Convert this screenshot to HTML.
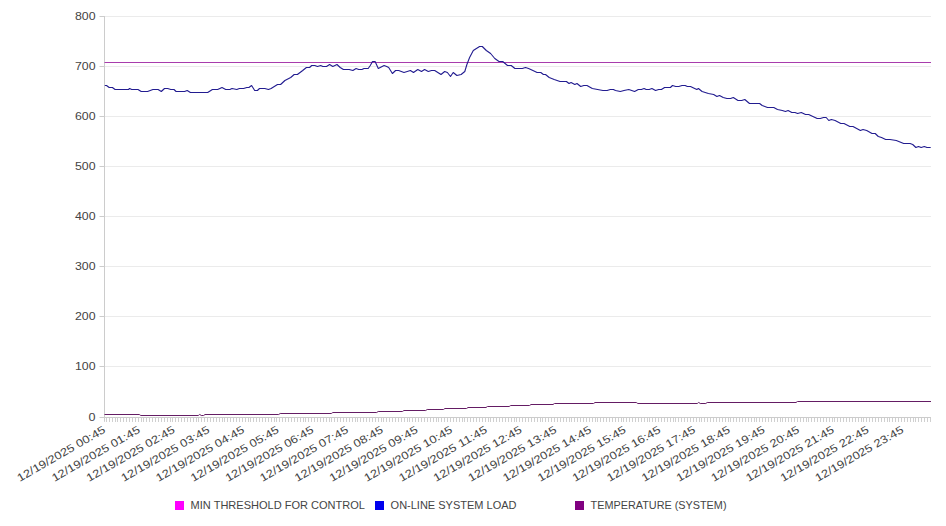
<!DOCTYPE html>
<html><head><meta charset="utf-8"><style>
html,body{margin:0;padding:0;background:#fff;width:946px;height:526px;overflow:hidden}
svg{display:block}
text{font-family:"Liberation Sans", sans-serif;fill:#444}
.yl{font-size:11px}
.xl{font-size:11px}
.lg{font-size:11px}
</style></head><body>
<svg width="946" height="526" viewBox="0 0 946 526">
<line x1="104.5" y1="366.50" x2="931.0" y2="366.50" stroke="#ebebeb" stroke-width="1"/>
<line x1="104.5" y1="316.50" x2="931.0" y2="316.50" stroke="#ebebeb" stroke-width="1"/>
<line x1="104.5" y1="266.50" x2="931.0" y2="266.50" stroke="#ebebeb" stroke-width="1"/>
<line x1="104.5" y1="216.50" x2="931.0" y2="216.50" stroke="#ebebeb" stroke-width="1"/>
<line x1="104.5" y1="166.50" x2="931.0" y2="166.50" stroke="#ebebeb" stroke-width="1"/>
<line x1="104.5" y1="116.50" x2="931.0" y2="116.50" stroke="#ebebeb" stroke-width="1"/>
<line x1="104.5" y1="66.50" x2="931.0" y2="66.50" stroke="#ebebeb" stroke-width="1"/>
<line x1="104.5" y1="16.50" x2="931.0" y2="16.50" stroke="#ebebeb" stroke-width="1"/>
<line x1="99.5" y1="417.50" x2="104.5" y2="417.50" stroke="#cccccc" stroke-width="1"/>
<text x="95.6" y="421.40" text-anchor="end" class="yl" textLength="7.0" lengthAdjust="spacingAndGlyphs">0</text>
<line x1="99.5" y1="366.50" x2="104.5" y2="366.50" stroke="#cccccc" stroke-width="1"/>
<text x="95.6" y="370.40" text-anchor="end" class="yl" textLength="20.6" lengthAdjust="spacingAndGlyphs">100</text>
<line x1="99.5" y1="316.50" x2="104.5" y2="316.50" stroke="#cccccc" stroke-width="1"/>
<text x="95.6" y="320.40" text-anchor="end" class="yl" textLength="20.6" lengthAdjust="spacingAndGlyphs">200</text>
<line x1="99.5" y1="266.50" x2="104.5" y2="266.50" stroke="#cccccc" stroke-width="1"/>
<text x="95.6" y="270.40" text-anchor="end" class="yl" textLength="20.6" lengthAdjust="spacingAndGlyphs">300</text>
<line x1="99.5" y1="216.50" x2="104.5" y2="216.50" stroke="#cccccc" stroke-width="1"/>
<text x="95.6" y="220.40" text-anchor="end" class="yl" textLength="20.6" lengthAdjust="spacingAndGlyphs">400</text>
<line x1="99.5" y1="166.50" x2="104.5" y2="166.50" stroke="#cccccc" stroke-width="1"/>
<text x="95.6" y="170.40" text-anchor="end" class="yl" textLength="20.6" lengthAdjust="spacingAndGlyphs">500</text>
<line x1="99.5" y1="116.50" x2="104.5" y2="116.50" stroke="#cccccc" stroke-width="1"/>
<text x="95.6" y="120.40" text-anchor="end" class="yl" textLength="20.6" lengthAdjust="spacingAndGlyphs">600</text>
<line x1="99.5" y1="66.50" x2="104.5" y2="66.50" stroke="#cccccc" stroke-width="1"/>
<text x="95.6" y="70.40" text-anchor="end" class="yl" textLength="20.6" lengthAdjust="spacingAndGlyphs">700</text>
<line x1="99.5" y1="16.50" x2="104.5" y2="16.50" stroke="#cccccc" stroke-width="1"/>
<text x="95.6" y="20.40" text-anchor="end" class="yl" textLength="20.6" lengthAdjust="spacingAndGlyphs">800</text>
<line x1="104.5" y1="16" x2="104.5" y2="421.8" stroke="#cccccc" stroke-width="1"/>
<line x1="104.5" y1="417.5" x2="931.0" y2="417.5" stroke="#cccccc" stroke-width="1"/>
<path d="M106.40 417.5v4.3M109.29 417.5v4.3M112.18 417.5v4.3M115.07 417.5v4.3M117.96 417.5v4.3M120.86 417.5v4.3M123.75 417.5v4.3M126.64 417.5v4.3M129.53 417.5v4.3M132.42 417.5v4.3M135.31 417.5v4.3M138.20 417.5v4.3M141.09 417.5v4.3M143.99 417.5v4.3M146.88 417.5v4.3M149.77 417.5v4.3M152.66 417.5v4.3M155.55 417.5v4.3M158.44 417.5v4.3M161.33 417.5v4.3M164.22 417.5v4.3M167.12 417.5v4.3M170.01 417.5v4.3M172.90 417.5v4.3M175.79 417.5v4.3M178.68 417.5v4.3M181.57 417.5v4.3M184.46 417.5v4.3M187.35 417.5v4.3M190.25 417.5v4.3M193.14 417.5v4.3M196.03 417.5v4.3M198.92 417.5v4.3M201.81 417.5v4.3M204.70 417.5v4.3M207.59 417.5v4.3M210.48 417.5v4.3M213.38 417.5v4.3M216.27 417.5v4.3M219.16 417.5v4.3M222.05 417.5v4.3M224.94 417.5v4.3M227.83 417.5v4.3M230.72 417.5v4.3M233.61 417.5v4.3M236.51 417.5v4.3M239.40 417.5v4.3M242.29 417.5v4.3M245.18 417.5v4.3M248.07 417.5v4.3M250.96 417.5v4.3M253.85 417.5v4.3M256.74 417.5v4.3M259.64 417.5v4.3M262.53 417.5v4.3M265.42 417.5v4.3M268.31 417.5v4.3M271.20 417.5v4.3M274.09 417.5v4.3M276.98 417.5v4.3M279.87 417.5v4.3M282.76 417.5v4.3M285.66 417.5v4.3M288.55 417.5v4.3M291.44 417.5v4.3M294.33 417.5v4.3M297.22 417.5v4.3M300.11 417.5v4.3M303.00 417.5v4.3M305.89 417.5v4.3M308.79 417.5v4.3M311.68 417.5v4.3M314.57 417.5v4.3M317.46 417.5v4.3M320.35 417.5v4.3M323.24 417.5v4.3M326.13 417.5v4.3M329.02 417.5v4.3M331.92 417.5v4.3M334.81 417.5v4.3M337.70 417.5v4.3M340.59 417.5v4.3M343.48 417.5v4.3M346.37 417.5v4.3M349.26 417.5v4.3M352.15 417.5v4.3M355.05 417.5v4.3M357.94 417.5v4.3M360.83 417.5v4.3M363.72 417.5v4.3M366.61 417.5v4.3M369.50 417.5v4.3M372.39 417.5v4.3M375.28 417.5v4.3M378.18 417.5v4.3M381.07 417.5v4.3M383.96 417.5v4.3M386.85 417.5v4.3M389.74 417.5v4.3M392.63 417.5v4.3M395.52 417.5v4.3M398.41 417.5v4.3M401.31 417.5v4.3M404.20 417.5v4.3M407.09 417.5v4.3M409.98 417.5v4.3M412.87 417.5v4.3M415.76 417.5v4.3M418.65 417.5v4.3M421.54 417.5v4.3M424.44 417.5v4.3M427.33 417.5v4.3M430.22 417.5v4.3M433.11 417.5v4.3M436.00 417.5v4.3M438.89 417.5v4.3M441.78 417.5v4.3M444.67 417.5v4.3M447.56 417.5v4.3M450.46 417.5v4.3M453.35 417.5v4.3M456.24 417.5v4.3M459.13 417.5v4.3M462.02 417.5v4.3M464.91 417.5v4.3M467.80 417.5v4.3M470.69 417.5v4.3M473.59 417.5v4.3M476.48 417.5v4.3M479.37 417.5v4.3M482.26 417.5v4.3M485.15 417.5v4.3M488.04 417.5v4.3M490.93 417.5v4.3M493.82 417.5v4.3M496.72 417.5v4.3M499.61 417.5v4.3M502.50 417.5v4.3M505.39 417.5v4.3M508.28 417.5v4.3M511.17 417.5v4.3M514.06 417.5v4.3M516.95 417.5v4.3M519.85 417.5v4.3M522.74 417.5v4.3M525.63 417.5v4.3M528.52 417.5v4.3M531.41 417.5v4.3M534.30 417.5v4.3M537.19 417.5v4.3M540.08 417.5v4.3M542.98 417.5v4.3M545.87 417.5v4.3M548.76 417.5v4.3M551.65 417.5v4.3M554.54 417.5v4.3M557.43 417.5v4.3M560.32 417.5v4.3M563.21 417.5v4.3M566.11 417.5v4.3M569.00 417.5v4.3M571.89 417.5v4.3M574.78 417.5v4.3M577.67 417.5v4.3M580.56 417.5v4.3M583.45 417.5v4.3M586.34 417.5v4.3M589.24 417.5v4.3M592.13 417.5v4.3M595.02 417.5v4.3M597.91 417.5v4.3M600.80 417.5v4.3M603.69 417.5v4.3M606.58 417.5v4.3M609.47 417.5v4.3M612.36 417.5v4.3M615.26 417.5v4.3M618.15 417.5v4.3M621.04 417.5v4.3M623.93 417.5v4.3M626.82 417.5v4.3M629.71 417.5v4.3M632.60 417.5v4.3M635.49 417.5v4.3M638.39 417.5v4.3M641.28 417.5v4.3M644.17 417.5v4.3M647.06 417.5v4.3M649.95 417.5v4.3M652.84 417.5v4.3M655.73 417.5v4.3M658.62 417.5v4.3M661.52 417.5v4.3M664.41 417.5v4.3M667.30 417.5v4.3M670.19 417.5v4.3M673.08 417.5v4.3M675.97 417.5v4.3M678.86 417.5v4.3M681.75 417.5v4.3M684.65 417.5v4.3M687.54 417.5v4.3M690.43 417.5v4.3M693.32 417.5v4.3M696.21 417.5v4.3M699.10 417.5v4.3M701.99 417.5v4.3M704.88 417.5v4.3M707.78 417.5v4.3M710.67 417.5v4.3M713.56 417.5v4.3M716.45 417.5v4.3M719.34 417.5v4.3M722.23 417.5v4.3M725.12 417.5v4.3M728.01 417.5v4.3M730.91 417.5v4.3M733.80 417.5v4.3M736.69 417.5v4.3M739.58 417.5v4.3M742.47 417.5v4.3M745.36 417.5v4.3M748.25 417.5v4.3M751.14 417.5v4.3M754.04 417.5v4.3M756.93 417.5v4.3M759.82 417.5v4.3M762.71 417.5v4.3M765.60 417.5v4.3M768.49 417.5v4.3M771.38 417.5v4.3M774.27 417.5v4.3M777.16 417.5v4.3M780.06 417.5v4.3M782.95 417.5v4.3M785.84 417.5v4.3M788.73 417.5v4.3M791.62 417.5v4.3M794.51 417.5v4.3M797.40 417.5v4.3M800.29 417.5v4.3M803.19 417.5v4.3M806.08 417.5v4.3M808.97 417.5v4.3M811.86 417.5v4.3M814.75 417.5v4.3M817.64 417.5v4.3M820.53 417.5v4.3M823.42 417.5v4.3M826.32 417.5v4.3M829.21 417.5v4.3M832.10 417.5v4.3M834.99 417.5v4.3M837.88 417.5v4.3M840.77 417.5v4.3M843.66 417.5v4.3M846.55 417.5v4.3M849.45 417.5v4.3M852.34 417.5v4.3M855.23 417.5v4.3M858.12 417.5v4.3M861.01 417.5v4.3M863.90 417.5v4.3M866.79 417.5v4.3M869.68 417.5v4.3M872.58 417.5v4.3M875.47 417.5v4.3M878.36 417.5v4.3M881.25 417.5v4.3M884.14 417.5v4.3M887.03 417.5v4.3M889.92 417.5v4.3M892.81 417.5v4.3M895.71 417.5v4.3M898.60 417.5v4.3M901.49 417.5v4.3M904.38 417.5v4.3M907.27 417.5v4.3M910.16 417.5v4.3M913.05 417.5v4.3M915.94 417.5v4.3M918.84 417.5v4.3M921.73 417.5v4.3M924.62 417.5v4.3M927.51 417.5v4.3M930.40 417.5v4.3" stroke="#d0d0d0" stroke-width="1" fill="none" shape-rendering="crispEdges"/>
<text transform="translate(106.30,432.00) rotate(-30)" text-anchor="end" class="xl" textLength="100" lengthAdjust="spacingAndGlyphs">12/19/2025 00:45</text>
<text transform="translate(141.00,432.00) rotate(-30)" text-anchor="end" class="xl" textLength="100" lengthAdjust="spacingAndGlyphs">12/19/2025 01:45</text>
<text transform="translate(175.70,432.00) rotate(-30)" text-anchor="end" class="xl" textLength="100" lengthAdjust="spacingAndGlyphs">12/19/2025 02:45</text>
<text transform="translate(210.40,432.00) rotate(-30)" text-anchor="end" class="xl" textLength="100" lengthAdjust="spacingAndGlyphs">12/19/2025 03:45</text>
<text transform="translate(245.10,432.00) rotate(-30)" text-anchor="end" class="xl" textLength="100" lengthAdjust="spacingAndGlyphs">12/19/2025 04:45</text>
<text transform="translate(279.80,432.00) rotate(-30)" text-anchor="end" class="xl" textLength="100" lengthAdjust="spacingAndGlyphs">12/19/2025 05:45</text>
<text transform="translate(314.50,432.00) rotate(-30)" text-anchor="end" class="xl" textLength="100" lengthAdjust="spacingAndGlyphs">12/19/2025 06:45</text>
<text transform="translate(349.20,432.00) rotate(-30)" text-anchor="end" class="xl" textLength="100" lengthAdjust="spacingAndGlyphs">12/19/2025 07:45</text>
<text transform="translate(383.90,432.00) rotate(-30)" text-anchor="end" class="xl" textLength="100" lengthAdjust="spacingAndGlyphs">12/19/2025 08:45</text>
<text transform="translate(418.60,432.00) rotate(-30)" text-anchor="end" class="xl" textLength="100" lengthAdjust="spacingAndGlyphs">12/19/2025 09:45</text>
<text transform="translate(453.30,432.00) rotate(-30)" text-anchor="end" class="xl" textLength="100" lengthAdjust="spacingAndGlyphs">12/19/2025 10:45</text>
<text transform="translate(488.00,432.00) rotate(-30)" text-anchor="end" class="xl" textLength="100" lengthAdjust="spacingAndGlyphs">12/19/2025 11:45</text>
<text transform="translate(522.70,432.00) rotate(-30)" text-anchor="end" class="xl" textLength="100" lengthAdjust="spacingAndGlyphs">12/19/2025 12:45</text>
<text transform="translate(557.40,432.00) rotate(-30)" text-anchor="end" class="xl" textLength="100" lengthAdjust="spacingAndGlyphs">12/19/2025 13:45</text>
<text transform="translate(592.10,432.00) rotate(-30)" text-anchor="end" class="xl" textLength="100" lengthAdjust="spacingAndGlyphs">12/19/2025 14:45</text>
<text transform="translate(626.80,432.00) rotate(-30)" text-anchor="end" class="xl" textLength="100" lengthAdjust="spacingAndGlyphs">12/19/2025 15:45</text>
<text transform="translate(661.50,432.00) rotate(-30)" text-anchor="end" class="xl" textLength="100" lengthAdjust="spacingAndGlyphs">12/19/2025 16:45</text>
<text transform="translate(696.20,432.00) rotate(-30)" text-anchor="end" class="xl" textLength="100" lengthAdjust="spacingAndGlyphs">12/19/2025 17:45</text>
<text transform="translate(730.90,432.00) rotate(-30)" text-anchor="end" class="xl" textLength="100" lengthAdjust="spacingAndGlyphs">12/19/2025 18:45</text>
<text transform="translate(765.60,432.00) rotate(-30)" text-anchor="end" class="xl" textLength="100" lengthAdjust="spacingAndGlyphs">12/19/2025 19:45</text>
<text transform="translate(800.30,432.00) rotate(-30)" text-anchor="end" class="xl" textLength="100" lengthAdjust="spacingAndGlyphs">12/19/2025 20:45</text>
<text transform="translate(835.00,432.00) rotate(-30)" text-anchor="end" class="xl" textLength="100" lengthAdjust="spacingAndGlyphs">12/19/2025 21:45</text>
<text transform="translate(869.70,432.00) rotate(-30)" text-anchor="end" class="xl" textLength="100" lengthAdjust="spacingAndGlyphs">12/19/2025 22:45</text>
<text transform="translate(904.40,432.00) rotate(-30)" text-anchor="end" class="xl" textLength="100" lengthAdjust="spacingAndGlyphs">12/19/2025 23:45</text>
<line x1="104.5" y1="62.5" x2="931.0" y2="62.5" stroke="#a83cac" stroke-width="1"/>
<polyline points="104.5,414.5 139.3,414.5 140.8,415.5 198.3,415.5 199.6,414.5 199.9,414.5 201.2,415.5 203.6,415.5 205.0,414.5 278.7,414.5 280.2,413.5 331.3,413.5 332.8,412.5 376.7,412.5 378.2,411.5 402.4,411.5 403.9,410.5 425.7,410.5 427.2,409.5 443.4,409.5 444.9,408.5 466.5,408.5 468.0,407.5 486.0,407.5 487.5,406.5 509.2,406.5 510.7,405.5 529.5,405.5 531.0,404.5 553.0,404.5 554.5,403.5 593.5,403.5 595.0,402.5 636.3,402.5 637.8,403.5 697.3,403.5 698.6,402.5 698.9,402.5 700.2,403.5 705.8,403.5 707.2,402.5 796.0,402.5 797.5,401.5 931.0,401.5" fill="none" stroke="#641c64" stroke-width="1.0" stroke-linejoin="round"/>
<polyline points="104.8,85.5 106.5,85.5 109.2,87.5 112.4,87.5 115.1,89.5 128.5,89.5 129.6,88.5 131.7,89.5 138.0,89.5 141.2,91.5 147.6,91.5 152.9,89.5 158.1,89.5 161.3,91.5 164.5,88.5 167.7,88.5 170.8,89.5 174.0,89.5 176.1,91.5 184.6,91.5 187.2,90.5 190.4,92.5 200.0,92.5 207.7,92.5 212.4,89.5 217.7,89.5 222.0,87.5 225.7,89.5 229.9,89.5 232.0,88.5 236.8,89.5 239.4,88.5 243.6,88.5 246.8,87.5 248.9,87.5 251.6,85.5 254.7,90.5 257.4,90.5 259.5,88.5 264.8,88.5 268.5,89.5 271.1,88.5 277.5,84.5 280.6,84.5 284.9,80.5 290.7,77.5 294.2,74.5 297.4,74.5 302.7,70.5 306.4,67.5 309.6,67.5 311.7,65.5 314.8,65.5 317.5,66.5 320.7,65.5 322.8,66.5 326.5,66.5 329.6,64.5 332.8,66.5 337.0,64.5 340.2,67.5 343.4,69.5 349.2,69.5 352.9,70.5 356.1,68.5 358.7,69.5 361.9,69.5 364.0,68.5 368.2,68.5 370.3,65.5 372.5,61.5 375.1,61.5 378.3,68.5 384.1,65.5 386.7,66.5 388.7,67.5 392.4,73.5 395.6,70.5 398.7,70.5 404.0,72.5 410.4,70.5 413.5,72.5 417.8,69.5 421.5,71.5 424.6,69.5 428.3,71.5 431.5,70.5 434.7,70.5 441.0,74.5 444.7,71.5 447.4,72.5 450.5,76.5 453.2,72.5 456.9,75.5 461.1,74.5 464.8,71.5 466.9,64.5 469.6,57.5 473.3,50.5 476.4,48.5 479.6,46.5 482.3,46.5 486.3,50.5 490.6,53.5 494.8,58.5 499.0,61.5 502.7,61.5 507.5,65.5 511.2,65.5 514.9,68.5 522.3,68.5 525.5,67.5 528.6,68.5 532.9,70.5 537.1,72.5 540.8,72.5 543.4,74.5 545.5,74.5 549.2,77.5 554.2,79.5 560.0,81.5 566.4,81.5 569.0,83.5 571.1,82.5 574.8,84.5 577.0,83.5 580.7,86.5 583.8,85.5 587.0,85.5 592.3,88.5 597.6,89.5 602.9,90.5 607.1,90.5 610.3,89.5 613.4,89.5 615.5,90.5 620.3,91.5 624.0,90.5 628.8,89.5 634.6,91.5 638.3,89.5 641.4,89.5 644.1,88.5 646.2,89.5 649.2,89.5 651.9,88.5 655.6,90.5 658.7,89.5 661.4,89.5 664.6,87.5 670.4,87.5 672.5,85.5 675.7,86.5 678.8,86.5 682.0,85.5 685.2,85.5 687.3,86.5 690.5,86.5 694.7,88.5 696.8,89.5 698.4,88.5 702.1,91.5 708.4,93.5 713.7,94.5 716.9,96.5 719.5,95.5 723.2,97.5 726.9,98.5 730.6,98.5 733.3,97.5 738.0,100.5 741.7,100.5 744.8,99.5 749.5,103.5 759.6,103.5 762.2,105.5 767.5,107.5 773.8,107.5 777.5,109.5 782.3,110.5 785.5,111.5 788.1,110.5 791.8,112.5 795.0,112.5 797.6,113.5 801.3,112.5 805.5,114.5 808.7,114.5 812.9,116.5 817.2,118.5 820.3,118.5 823.5,117.5 826.2,117.5 828.8,120.5 831.4,119.5 835.1,120.5 840.8,123.5 844.0,123.5 849.8,126.5 853.0,126.5 860.4,130.5 863.0,129.5 866.7,130.5 872.0,133.5 875.2,133.5 878.3,136.5 881.5,137.5 885.7,139.5 890.0,139.5 896.3,140.5 903.7,143.5 910.1,143.5 912.7,144.5 915.9,147.5 918.5,146.5 921.2,147.5 924.3,146.5 927.0,147.5 930.7,147.5" fill="none" stroke="#221c90" stroke-width="1.1" stroke-linejoin="round"/>
<rect x="175" y="501" width="9" height="9" fill="#ff00ff"/>
<text x="190.6" y="508.9" class="lg" textLength="174.3" lengthAdjust="spacingAndGlyphs">MIN THRESHOLD FOR CONTROL</text>
<rect x="375" y="501" width="9" height="9" fill="#0000ee"/>
<text x="390.6" y="508.9" class="lg" textLength="125.9" lengthAdjust="spacingAndGlyphs">ON-LINE SYSTEM LOAD</text>
<rect x="575" y="501" width="9" height="9" fill="#800080"/>
<text x="590.6" y="508.9" class="lg" textLength="135.9" lengthAdjust="spacingAndGlyphs">TEMPERATURE (SYSTEM)</text>
</svg>
</body></html>
